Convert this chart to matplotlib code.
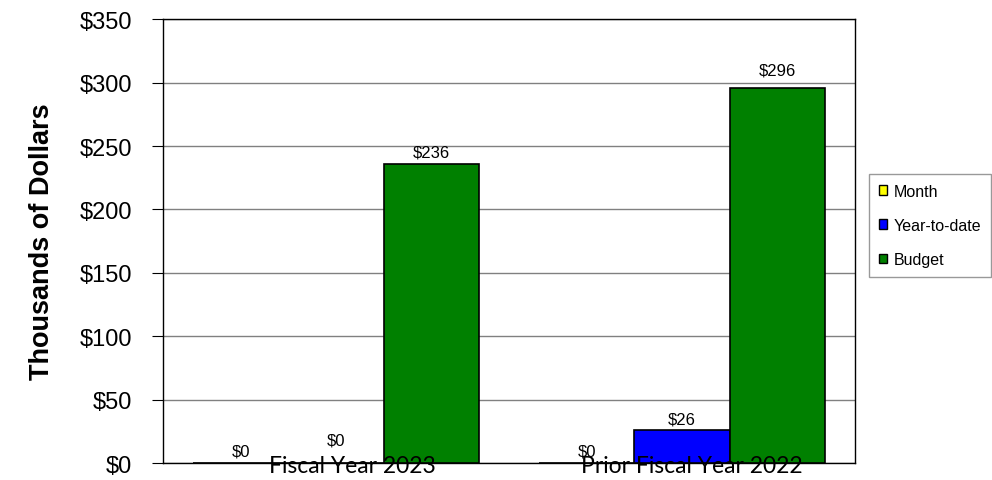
from matplotlib import pyplot as plt
from matplotlib.patches import Patch
import numpy as np

# categories and series
categories = ['Fiscal Year 2023', 'Prior Fiscal Year 2022']
series = ['Month', 'Year-to-date', 'Budget']
month = [0, 0]
ytd = [0, 26]
budget = [236, 296]
colors = ['#FFFF00', '#0000FF', '#008000']

plt.rcParams['font.family'] = ['Liberation Sans', 'DejaVu Sans']

fig = plt.figure(figsize=(9.92, 4.81), dpi=100)
ax = fig.add_axes([0.1643, 0.035, 0.6976, 0.923])

x = np.arange(len(categories))
w = 0.275
values = [month, ytd, budget]
# label offsets in points (excel placed some labels higher)
label_dy = [[3.5, 3], [11, 3], [3, 7]]
for i, (name, vals, c) in enumerate(zip(series, values, colors)):
    pos = x + (i - 1) * w
    ax.bar(pos, vals, w, color=c, edgecolor='black', linewidth=1.2, label=name, zorder=3)
    for j, (p, v) in enumerate(zip(pos, vals)):
        ax.annotate('$%d' % v, (p, v), xytext=(0, label_dy[i][j]), textcoords='offset points',
                    ha='center', va='bottom', fontsize=12, zorder=4)

ax.set_xlim(-0.5, 1.5)
ax.set_ylim(0, 350)
ax.set_yticks(np.arange(0, 351, 50))
ax.set_yticklabels(['$%d' % t for t in np.arange(0, 351, 50)], fontsize=17)
ax.tick_params(axis='y', direction='out', length=8, pad=14)
ax.set_xticks([])
# category labels drawn on top of the bars
cat_dx = [12, 7]
for xi, cat, dx in zip(x, categories, cat_dx):
    ax.annotate(cat, (xi, 0), xytext=(dx, -6.5), textcoords='offset points',
                ha='center', va='baseline', fontsize=16.5,
                family=['Lato', 'DejaVu Sans'], zorder=6, annotation_clip=False)
ax.yaxis.grid(True, color='#808080', linewidth=1, zorder=0)
ax.set_axisbelow(True)
for s in ax.spines.values():
    s.set_color('black')
    s.set_linewidth(1)
ax.set_ylabel('Thousands of Dollars', fontsize=19.5, fontweight='bold', labelpad=18)

handles = [Patch(facecolor=c, edgecolor='black', label=n) for n, c in zip(series, colors)]
leg = fig.legend(handles=handles, loc='upper left', bbox_to_anchor=(0.876, 0.636),
                 fontsize=11.5, frameon=True, fancybox=False, edgecolor='#808080',
                 handlelength=0.55, handleheight=0.55, handletextpad=0.4, labelspacing=1.2,
                 borderpad=0.6, borderaxespad=0)
leg.get_frame().set_linewidth(1)

plt.savefig('out.png', dpi=100)
